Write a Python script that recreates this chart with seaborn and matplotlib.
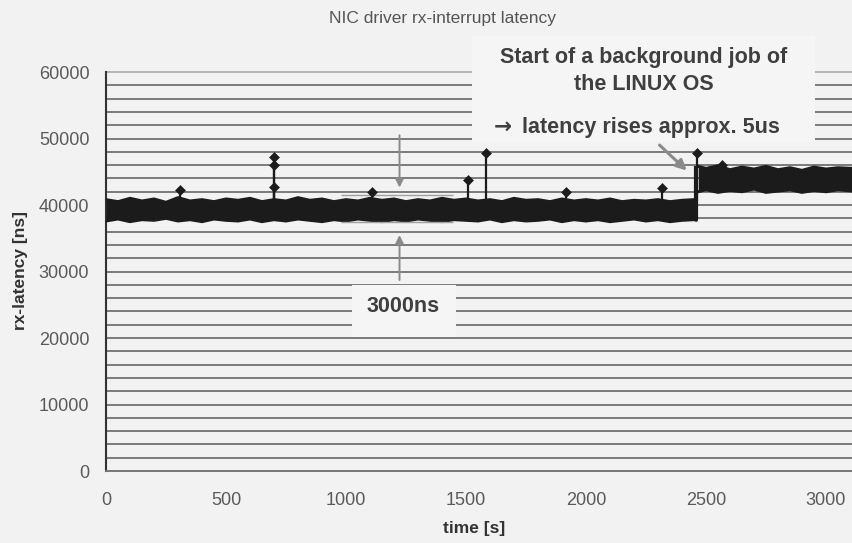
import numpy as np
import pandas as pd
import matplotlib
matplotlib.use("Agg")
import matplotlib.pyplot as plt
import seaborn as sns
from matplotlib.patches import Rectangle

# ---------------- data ----------------
pre_time = list(range(0, 2451, 50)) + [2460]
pre_upper = [40800, 40500, 41000, 40600, 40900, 40400, 41100, 40600, 40800, 40500,
             40900, 40700, 41000, 40500, 40800, 40600, 41100, 40700, 40900, 40500,
             40800, 40600, 41000, 40700, 40900, 40500, 40800, 40600, 41000, 40700,
             40900, 40600, 40800, 40500, 41000, 40700, 40800, 40500, 40900, 40600,
             40800, 40600, 40900, 40500, 40700, 40600, 40800, 40500, 40700, 40800, 40900]
pre_lower = [37600, 37900, 37500, 37800, 37700, 38000, 37600, 37800, 37500, 37900,
             37700, 37600, 37900, 37500, 37800, 37600, 37900, 37700, 37500, 37800,
             37600, 37900, 37700, 37500, 37800, 37600, 37900, 37700, 37500, 37800,
             37700, 37600, 37900, 37500, 37800, 37600, 37700, 37900, 37500, 37800,
             37600, 37800, 37500, 37700, 37900, 37600, 37800, 37500, 37700, 37800, 37700]
post_time = [2468, 2500, 2550, 2600, 2650, 2700, 2750, 2800, 2850, 2900, 2950, 3000, 3050, 3110]
post_upper = [45800, 45500, 45900, 45300, 45700, 45400, 45800, 45300, 45600, 45200, 45700, 45400, 45600, 45500]
post_lower = [42000, 42300, 41900, 42200, 42000, 42400, 41900, 42100, 42300, 41900, 42200, 42000, 42300, 42100]

spike_time = [309, 701, 701, 701, 1110, 1510, 1585, 1915, 2315, 2461, 2566]
spike_value = [42300, 47200, 46000, 42700, 42000, 43800, 47800, 42000, 42600, 47800, 46000]
spike_base = [40600, 40600, 40600, 40600, 40600, 40600, 40600, 40600, 40600, 40600, 45500]

x_ticks = [0, 500, 1000, 1500, 2000, 2500, 3000]
y_ticks = [0, 10000, 20000, 30000, 40000, 50000, 60000]
grid_step = 2000

title = "NIC driver rx-interrupt latency"
x_label = "time [s]"
y_label = "rx-latency [ns]"
note_lines = ["Start of a background job of", "the LINUX OS", "\u2192 latency rises approx. 5us"]
band_label = "3000ns"
bracket_top, bracket_bottom = 41500, 37450
bracket_x = (980, 1444)
arrow_x = 1223

# ---------------- style ----------------
sns.set_theme(style="white")
plt.rcParams['font.family'] = ['Liberation Sans', 'DejaVu Sans']
bg = "#f2f2f2"
box_bg = "#f5f5f5"
dark = "#1b1b1b"
grid_c = "#7a7a7a"
txt = "#3f3f3f"
tick_txt = "#5a5a5a"

W, H = 852, 543
fig = plt.figure(figsize=(W / 100, H / 100), dpi=100, facecolor=bg)
x0_px, x1_px = 106, 852
y0_px, y1_px = 471, 72
xmax = (x1_px - x0_px) / ((826 - 106) / 3000)
ypad = 250
pxu = (y0_px - y1_px) / 60000
ax = fig.add_axes([x0_px / W, 1 - (y0_px + ypad * pxu) / H, (x1_px - x0_px) / W,
                   (y0_px - y1_px + 2 * ypad * pxu) / H])
ax.set_facecolor(bg)
ax.set_xlim(0, xmax)
ax.set_ylim(-ypad, 60000 + ypad)

# grid lines every 2000
for gy in range(0, 60001, grid_step):
    ax.axhline(gy, color=grid_c if gy < 60000 else "#b5b5b5", lw=1.4, zorder=1)

# data band
pre = pd.DataFrame({"t": pre_time, "lo": pre_lower, "hi": pre_upper})
post = pd.DataFrame({"t": post_time, "lo": post_lower, "hi": post_upper})
for d in (pre, post):
    ax.fill_between(d["t"], d["lo"], d["hi"], color=dark, lw=0, zorder=3)
    sns.lineplot(data=d, x="t", y="hi", color=dark, lw=2.2, ax=ax, zorder=3)
    sns.lineplot(data=d, x="t", y="lo", color=dark, lw=2.2, ax=ax, zorder=3)
ax.vlines(pre_time[-1], pre_lower[-1], post_upper[0], color=dark, lw=3, zorder=3)

# spikes
sp = pd.DataFrame({"t": spike_time, "v": spike_value, "b": spike_base})
ax.vlines(sp["t"], sp["b"], sp["v"], color=dark, lw=1.6, zorder=4)
sns.scatterplot(data=sp, x="t", y="v", marker="D", s=26, color=dark, edgecolor=dark,
                ax=ax, zorder=5)

# bracket lines + arrows
ax.hlines([bracket_top, bracket_bottom], *bracket_x, color="#a0a0a0", lw=1.0, zorder=4)
ax.annotate("", xy=(arrow_x, 42200), xytext=(arrow_x, 50900),
            arrowprops=dict(arrowstyle="-|>", color="#8a8a8a", lw=1.4, mutation_scale=12), zorder=6)
ax.annotate("", xy=(arrow_x, 35900), xytext=(arrow_x, 28300),
            arrowprops=dict(arrowstyle="-|>", color="#8a8a8a", lw=1.4, mutation_scale=12), zorder=6)

# axes styling
for s in ["top", "right"]:
    ax.spines[s].set_visible(False)
ax.spines["bottom"].set_position(("data", 0))
ax.spines["bottom"].set_color(grid_c)
ax.spines["left"].set_color("#333333")
ax.spines["left"].set_linewidth(1.5)
ax.spines["left"].set_bounds(0, 60000)
ax.set_xticks(x_ticks)
ax.set_yticks(y_ticks)
ax.set_xticklabels([str(v) for v in x_ticks])
ax.set_yticklabels([str(v) for v in y_ticks])
ax.tick_params(axis="x", direction="inout", length=6, width=1, color="#555555",
               labelsize=13, labelcolor=tick_txt, pad=12)
ax.tick_params(axis="y", direction="out", length=5, width=1, color="#555555",
               labelsize=13, labelcolor=tick_txt, pad=7)
ax.set_xlabel("")
ax.set_ylabel("")

fig.text(474 / W, 1 - 528 / H, x_label, ha="center", va="center", fontsize=12.5,
         fontweight="bold", color="#333333")
fig.text(21 / W, 1 - 271 / H, y_label, ha="center", va="center", rotation=90,
         fontsize=12.5, fontweight="bold", color="#333333")
fig.text(442 / W, 1 - 18 / H, title, ha="center", va="center", fontsize=12.5,
         color="#555555")

# annotation boxes
fig.patches.append(Rectangle((472 / W, 1 - 142 / H), (815 - 472) / W, (142 - 36) / H,
                             transform=fig.transFigure, facecolor=box_bg,
                             edgecolor="none", zorder=10))
for line, ypx in zip(note_lines[:2], [57, 85]):
    fig.text(644 / W, 1 - ypx / H, line, ha="center", va="center", fontsize=15.5,
             fontweight="bold", color=txt, zorder=11)
arrow_char, rest = note_lines[2][0], note_lines[2][2:]
fig.text(503 / W, 1 - 127 / H, arrow_char, ha="center", va="center", fontsize=15.5,
         fontweight="bold", color=txt, zorder=11, family=['DejaVu Sans'])
fig.text(522 / W, 1 - 127 / H, rest, ha="left", va="center", fontsize=15.5,
         fontweight="bold", color=txt, zorder=11)
ax.annotate("", xy=(2428, 44900), xytext=(2298, 49300),
            arrowprops=dict(arrowstyle="-|>", color="#8a8a8a", lw=2.2, mutation_scale=15), zorder=12)

fig.patches.append(Rectangle((352 / W, 1 - 337 / H), (456 - 352) / W, (337 - 285) / H,
                             transform=fig.transFigure, facecolor=box_bg,
                             edgecolor="none", zorder=10))
fig.text(403 / W, 1 - 307 / H, band_label, ha="center", va="center", fontsize=15.5,
         fontweight="bold", color=txt, zorder=11)

fig.savefig("out.png", dpi=100, facecolor=bg)
